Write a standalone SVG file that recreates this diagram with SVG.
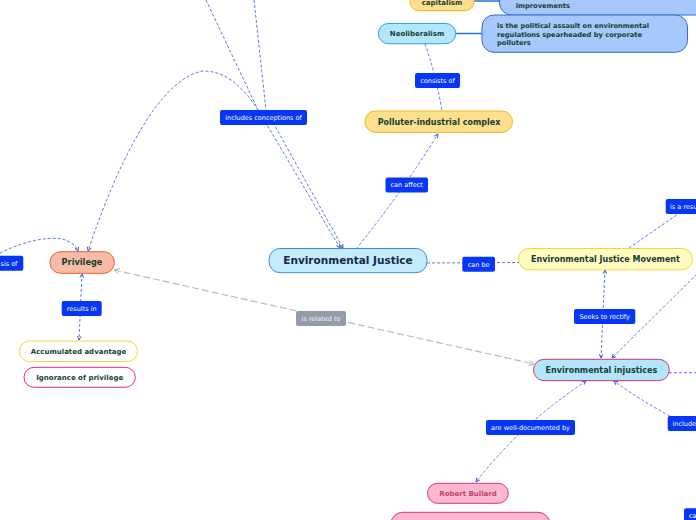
<svg xmlns="http://www.w3.org/2000/svg" width="696" height="520" viewBox="0 0 696 520">
<defs>
<style>
.n{font-family:"DejaVu Sans",Verdana,sans-serif;font-weight:bold;fill:#173d30;text-anchor:middle}
.lb rect{fill:#0636f6}
.lb text{font-family:"DejaVu Sans",Verdana,sans-serif;font-size:6.5px;fill:#ffffff;text-anchor:middle}
.c{fill:none;stroke:#5a78f0;stroke-width:1;stroke-dasharray:3 2}
.g{fill:none;stroke:#bcbcbc;stroke-width:1.2;stroke-dasharray:7 3}
.s{fill:none;stroke:#2b6fd9;stroke-width:1.5}
</style>
<marker id="a" viewBox="0 0 8 8" refX="7" refY="4" markerWidth="5" markerHeight="5" orient="auto-start-reverse" markerUnits="userSpaceOnUse">
<path d="M1,1 L7,4 L1,7" fill="none" stroke="#3355ee" stroke-width="1.5"/>
</marker>
<marker id="ag" viewBox="0 0 8 8" refX="7" refY="4" markerWidth="7" markerHeight="7" orient="auto-start-reverse" markerUnits="userSpaceOnUse">
<path d="M1,1 L7,4 L1,7" fill="none" stroke="#aaaaaa" stroke-width="1"/>
</marker>
</defs>
<rect width="696" height="520" fill="#ffffff"/>
<g id="connectors">
<path class="s" d="M474,1 L500,1"/>
<path class="s" d="M456,33.5 L482,33.5"/>
<path class="c" d="M425,44 Q436,75 442,111"/>
<path class="c" d="M356,249 Q400,195 438,134" marker-end="url(#a)"/>
<path class="c" d="M206,0 L257,108 L340,248" marker-end="url(#a)"/>
<path class="c" d="M254,0 L266,110 L343,248" marker-end="url(#a)"/>
<path class="c" d="M258,110 C245,90 228,71 203,71 C150,80 105,200 88,251" marker-end="url(#a)"/>
<path class="c" d="M0,253 C20,243 45,236 62,239 C70,241 76,245 78,251" marker-end="url(#a)"/>
<path class="c" d="M82,274 L79,340" marker-start="url(#a)" marker-end="url(#a)"/>
<path class="g" d="M114,270 L534,364" marker-start="url(#ag)" marker-end="url(#ag)"/>
<path class="c" d="M427,263 L519,262.5"/>
<path class="c" d="M629,248 L678,214"/>
<path class="c" d="M605,270 L601,358" marker-start="url(#a)" marker-end="url(#a)"/>
<path class="c" d="M697,274 L612,358" marker-end="url(#a)"/>
<path class="c" d="M669,372.7 L696,372.7"/>
<path class="c" d="M670,416 Q640,400 614,381" marker-end="url(#a)"/>
<path class="c" d="M586,381 Q520,425 476,482" marker-start="url(#a)" marker-end="url(#a)"/>
</g>
<g id="node-capitalism">
<rect x="410" y="-10" width="64" height="20.7" rx="9" fill="#fedf8e" stroke="#f5b41c" stroke-width="1"/>
<text class="n" x="442" y="5" font-size="7">capitalism</text>
</g>
<g id="node-improvements">
<rect x="499.5" y="-15" width="210" height="30" rx="12" fill="#a6c8fc" stroke="#2b6fd9" stroke-width="1"/>
<text class="n" x="515.7" y="8" font-size="6.7" style="text-anchor:start">improvements</text>
</g>
<g id="node-neoliberalism">
<rect x="378.3" y="23.5" width="77.4" height="20.2" rx="10" fill="#b3e5fc" stroke="#2aa6e0" stroke-width="1"/>
<text class="n" x="417" y="36" font-size="7">Neoliberalism</text>
</g>
<g id="node-assault">
<rect x="482" y="15" width="205.5" height="37.3" rx="12" fill="#a6c8fc" stroke="#2b6fd9" stroke-width="1"/>
<text class="n" font-size="6.7" style="text-anchor:start"><tspan x="497" y="28">is the political assault on environmental</tspan><tspan x="497" y="36.7">regulations spearheaded by corporate</tspan><tspan x="497" y="45">polluters</tspan></text>
</g>
<g id="node-polluter">
<rect x="365" y="111" width="147.5" height="21.3" rx="10.5" fill="#fedf8e" stroke="#f5b41c" stroke-width="1"/>
<text class="n" x="439" y="124.6" font-size="8">Polluter-industrial complex</text>
</g>
<g id="node-ej">
<rect x="269" y="248.5" width="158" height="24.2" rx="11" fill="#c4ebfb" stroke="#3b8fd4" stroke-width="1"/>
<text class="n" x="348" y="264.3" font-size="10.5" style="fill:#13294b">Environmental Justice</text>
</g>
<g id="node-privilege">
<rect x="50" y="251.7" width="64.3" height="21.6" rx="10.5" fill="#f8bca6" stroke="#ef5a2c" stroke-width="1"/>
<text class="n" x="82" y="265.4" font-size="8.2">Privilege</text>
</g>
<g id="node-accumulated">
<rect x="19.5" y="341" width="118" height="20.6" rx="10" fill="#ffffff" stroke="#f0d840" stroke-width="1"/>
<text class="n" x="78.5" y="353.8" font-size="7">Accumulated advantage</text>
</g>
<g id="node-ignorance">
<rect x="24" y="367.3" width="111.3" height="20" rx="10" fill="#ffffff" stroke="#e62a70" stroke-width="1"/>
<text class="n" x="79.7" y="379.8" font-size="7">Ignorance of privilege</text>
</g>
<g id="node-ejm">
<rect x="518.5" y="248.5" width="174" height="21.3" rx="10.5" fill="#fffac0" stroke="#efd83a" stroke-width="1"/>
<text class="n" x="605.5" y="262" font-size="8">Environmental Justice Movement</text>
</g>
<g id="node-eji">
<rect x="533.5" y="359.3" width="135.8" height="21.3" rx="10.5" fill="#b3e5fc" stroke="#d9336c" stroke-width="1"/>
<text class="n" x="601.4" y="372.8" font-size="8">Environmental injustices</text>
</g>
<g id="node-bullard">
<rect x="427.5" y="483.3" width="80.8" height="20" rx="10" fill="#ffb8cf" stroke="#e0306c" stroke-width="1"/>
<text class="n" x="468" y="495.8" font-size="7" style="fill:#c2406b">Robert Bullard</text>
</g>
<g id="node-bottom">
<rect x="390.7" y="512.3" width="159.3" height="30" rx="12" fill="#ffb8cf" stroke="#e0306c" stroke-width="1"/>
</g>
<g id="labels">
<g class="lb" id="lb-includes"><rect x="220" y="110" width="87" height="15" rx="2"/><text x="263.5" y="119.8">includes conceptions of</text></g>
<g class="lb" id="lb-consists"><rect x="415" y="73" width="45" height="15" rx="2"/><text x="437.5" y="82.8">consists of</text></g>
<g class="lb" id="lb-affect"><rect x="385.5" y="177.5" width="42.5" height="15" rx="2"/><text x="406.7" y="187.3">can affect</text></g>
<g class="lb" id="lb-sis"><rect x="-4" y="255.7" width="27.3" height="15" rx="2"/><text x="0.5" y="265.5" style="text-anchor:start">sis of</text></g>
<g class="lb" id="lb-results"><rect x="61.7" y="301" width="40" height="15" rx="2"/><text x="81.7" y="310.8">results in</text></g>
<g id="lb-related"><rect x="296" y="311" width="50" height="15" rx="2" fill="#939ca8"/><text x="321" y="320.8" font-family="DejaVu Sans, Verdana, sans-serif" font-size="6.5" fill="#f2f4f8" text-anchor="middle">is related to</text></g>
<g class="lb" id="lb-canbe"><rect x="462.3" y="256.7" width="32.7" height="15" rx="2"/><text x="478.7" y="266.5">can be</text></g>
<g class="lb" id="lb-result"><rect x="665.7" y="199" width="40" height="15" rx="2"/><text x="670" y="208.8" style="text-anchor:start">is a resu</text></g>
<g class="lb" id="lb-seeks"><rect x="574" y="309" width="61.3" height="15" rx="2"/><text x="604.7" y="318.8">Seeks to rectify</text></g>
<g class="lb" id="lb-include"><rect x="667.7" y="416" width="40" height="15" rx="2"/><text x="672.5" y="425.8" style="text-anchor:start">include</text></g>
<g class="lb" id="lb-documented"><rect x="486" y="420" width="89" height="15" rx="2"/><text x="530.5" y="429.8">are well-documented by</text></g>
<g class="lb" id="lb-ca"><rect x="684" y="508.3" width="20" height="15" rx="2"/><text x="689" y="518.1" style="text-anchor:start">ca</text></g>
</g>
</svg>
